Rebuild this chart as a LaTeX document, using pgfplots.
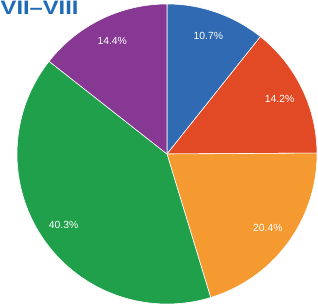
\documentclass[border=0pt]{standalone}
\usepackage{pgfplots}
\pgfplotsset{compat=1.18}
\usepackage{pgfplotstable}
\usepackage{fontspec}
\setmainfont{Liberation Sans}
\definecolor{cblue}{HTML}{306AB2}
\definecolor{cred}{HTML}{E24A26}
\definecolor{corange}{HTML}{F59A30}
\definecolor{cgreen}{HTML}{21A04B}
\definecolor{cpurple}{HTML}{863893}
\definecolor{ctitle}{HTML}{1F6BB8}
\pgfplotstableread{
label value color
a 10.7 cblue
b 14.2 cred
c 20.4 corange
d 40.3 cgreen
e 14.4 cpurple
}\piedata
\begin{document}
\begin{tikzpicture}
\begin{axis}[
  scale only axis, width=318bp, height=305bp,
  xmin=0, xmax=318, ymin=0, ymax=305,
  hide axis, clip=true,
]
\pgfmathsetmacro{\cx}{167}
\pgfmathsetmacro{\cy}{151}
\pgfmathsetmacro{\R}{150}
\def\startang{90}
\pgfplotstablegetrowsof{\piedata}
\pgfmathtruncatemacro{\nrows}{\pgfplotsretval-1}
\pgfplotsforeachungrouped \i in {0,...,\nrows}{%
  \pgfplotstablegetelem{\i}{value}\of{\piedata}\let\v\pgfplotsretval
  \pgfplotstablegetelem{\i}{color}\of{\piedata}\let\c\pgfplotsretval
  \pgfmathsetmacro{\endang}{\startang-3.6*\v}
  \pgfmathsetmacro{\midang}{(\startang+\endang)/2}
  \edef\temp{%
    \noexpand\addplot[fill=\c, draw=white, line width=0.6pt, domain=\startang:\endang, samples=80]
      ({\cx+\R*cos(x)},{\cy+\R*sin(x)}) -- (axis cs:\cx,\cy) -- cycle;
    \noexpand\node[text=white, font=\noexpand\fontsize{10.4}{12}\noexpand\selectfont]
      at (axis cs:{\cx+0.835*\R*cos(\midang)},{\cy+0.835*\R*sin(\midang)}) {\v\noexpand\%};
  }\temp
  \global\let\startang\endang
}
\end{axis}
\node[anchor=north west, inner sep=0pt, text=ctitle, font=\fontsize{19.5}{22}\selectfont\bfseries] at (0.5bp,304bp) {\scalebox{1.22}[1]{VII–VIII}};
\pgfresetboundingbox
\useasboundingbox (0,0) rectangle (318bp,305bp);
\end{tikzpicture}
\end{document}
